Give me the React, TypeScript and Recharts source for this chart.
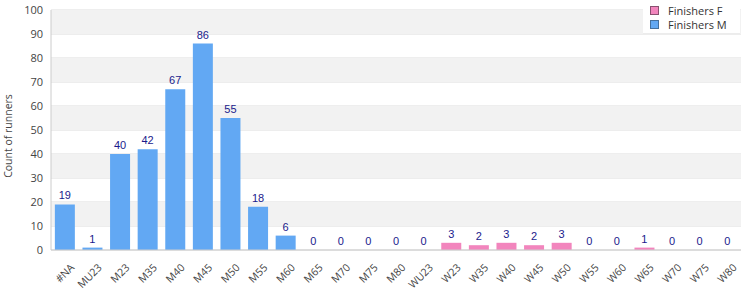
import React from 'react'
import { ComposedChart, Bar, Line, XAxis, YAxis, CartesianGrid, LabelList, ReferenceArea } from 'recharts'

const categories = ['#NA', 'MU23', 'M23', 'M35', 'M40', 'M45', 'M50', 'M55', 'M60', 'M65', 'M70', 'M75', 'M80', 'WU23', 'W23', 'W35', 'W40', 'W45', 'W50', 'W55', 'W60', 'W65', 'W70', 'W75', 'W80']
const finishersM = [19, 1, 40, 42, 67, 86, 55, 18, 6, 0, 0, 0, 0, 0, 0, 0, 0, 0, 0, 0, 0, 0, 0, 0, 0]
const finishersF = [0, 0, 0, 0, 0, 0, 0, 0, 0, 0, 0, 0, 0, 0, 3, 2, 3, 2, 3, 0, 0, 1, 0, 0, 0]
const yTicks = [0, 10, 20, 30, 40, 50, 60, 70, 80, 90, 100]
const bands = [10, 30, 50, 70, 90]

const data = categories.map((name, i) => ({
  name,
  M: finishersM[i],
  F: finishersF[i],
  total: finishersM[i] + finishersF[i],
}))

const axisFont = '"Open Sans", "DejaVu Sans", sans-serif'
const valueFont = '"Liberation Sans", Arial, sans-serif'

function XTick(props: any) {
  const { x, y, payload } = props
  return (
    <text x={x + 4} y={y + 4} transform={`rotate(-45, ${x + 4}, ${y + 4})`} textAnchor="end" dominantBaseline="hanging" fontSize={10.5} fill="#444" fontFamily={axisFont}>
      {payload.value}
    </text>
  )
}

function LegendBox() {
  const items = [
    { label: 'Finishers F', color: '#f285bd', border: '#8a5070' },
    { label: 'Finishers M', color: '#62a8f3', border: '#44709e' },
  ]
  return (
    <div style={{ position: 'absolute', left: 643, top: 0, width: 97, height: 34, background: '#fff', borderBottom: '1px solid #ececec', fontFamily: axisFont, fontSize: 11, color: '#333', boxSizing: 'border-box', paddingTop: 3, paddingLeft: 7 }}>
      {items.map((it) => (
        <div key={it.label} style={{ display: 'flex', alignItems: 'center', height: 14 }}>
          <span style={{ width: 7, height: 7, background: it.color, border: `1px solid ${it.border}`, marginRight: 9, display: 'inline-block' }} />
          {it.label}
        </div>
      ))}
    </div>
  )
}

export default function App() {
  return (
    <div style={{ position: 'absolute', left: 0, top: 0, width: 750, height: 300, background: '#fff' }}>
      <ComposedChart width={750} height={300} data={data} margin={{ top: 10, right: 9, left: 0, bottom: 0 }} barCategoryGap="14%">
        {bands.map((b) => (
          <ReferenceArea key={b} y1={b} y2={b + 10} fill="#f2f2f2" fillOpacity={1} stroke="none" ifOverflow="visible" />
        ))}
        <CartesianGrid vertical={false} stroke="#dcdcdc" />
        <XAxis dataKey="name" interval={0} tick={<XTick />} tickLine={false} axisLine={{ stroke: '#cccccc' }} height={50} />
        <YAxis
          domain={[0, 100]}
          ticks={yTicks}
          tick={{ fontSize: 11, fill: '#444', fontFamily: axisFont }}
          tickLine={false}
          axisLine={{ stroke: '#cccccc' }}
          width={51}
          label={{ value: 'Count of runners', angle: -90, position: 'center', dx: -17, dy: 6, style: { fontSize: 10.5, fill: '#444', fontFamily: axisFont } }}
        />
        <YAxis yAxisId="right" orientation="right" domain={[0, 100]} tick={false} tickLine={false} axisLine={{ stroke: '#d6d6d6' }} width={0} />
        <Bar dataKey="M" stackId="a" fill="#62a8f3" isAnimationActive={false} />
        <Bar dataKey="F" stackId="a" fill="#f285bd" isAnimationActive={false} />
        <Line dataKey="total" stroke="none" dot={false} activeDot={false} isAnimationActive={false}>
          <LabelList dataKey="total" position="top" offset={5} style={{ fontSize: 11, fill: '#1a1a8c', fontFamily: valueFont }} />
        </Line>
      </ComposedChart>
      <LegendBox />
    </div>
  )
}
